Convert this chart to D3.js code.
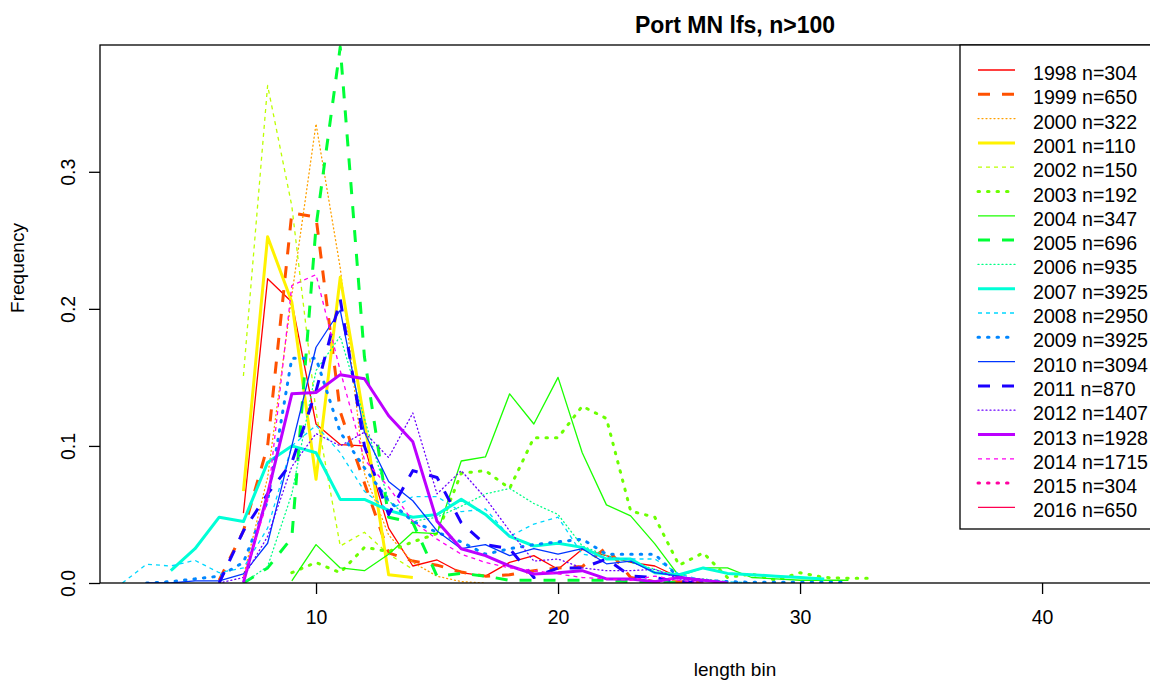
<!DOCTYPE html>
<html>
<head>
<meta charset="utf-8">
<script src="https://cdn.jsdelivr.net/npm/d3@7"></script>
<style>
  html, body { margin: 0; padding: 0; background: #fff; }
  svg { display: block; font-family: "Liberation Sans", Arial, Helvetica, sans-serif; }
</style>
</head>
<body>
<svg id="chart" width="1150" height="680"></svg>
<script>
// ---------------- data ----------------
const years  = [1998, 1999, 2000, 2001, 2002, 2003, 2004, 2005, 2006, 2007, 2008, 2009, 2010, 2011, 2012, 2013, 2014, 2015, 2016];
const counts = [304, 650, 322, 110, 150, 192, 347, 696, 935, 3925, 2950, 3925, 3094, 870, 1407, 1928, 1715, 304, 650];
// first length bin of each series
const startBin = [7, 6, 7, 7, 7, 9, 9, 7, 7, 4, 2, 3, 3, 6, 6, 7, 7, null, null];

const f1998 = [0.051, 0.222, 0.205, 0.116, 0.101, 0.100, 0.040, 0.0124, 0.0168, 0.0075, 0.005, 0.015, 0.020, 0.010, 0.0246, 0.020, 0.015, 0.0124, 0.004, 0.001];
const f1999 = [0.002, 0.038, 0.100, 0.270, 0.267, 0.125, 0.073, 0.022, 0.016, 0.013, 0.008, 0.005, 0.006, 0.009, 0.011, 0.012, 0.026, 0.004, 0.001, 0.001, 0];
const f2000 = [0.005, 0.077, 0.210, 0.335, 0.230, 0.080, 0.035, 0.015, 0.005, 0.001, 0];
const f2001 = [0.067, 0.2526, 0.205, 0.0757, 0.223, 0.118, 0.006, 0.004];
const f2002 = [0.151, 0.363, 0.275, 0.125, 0.027, 0.037, 0.021, 0.010];
const f2003 = [0.0075, 0.015, 0.0075, 0.026, 0.023, 0.030, 0.036, 0.080, 0.082, 0.069, 0.106, 0.106, 0.129, 0.120, 0.0525, 0.048, 0.013, 0.022, 0.004, 0.0066, 0.002, 0.0075, 0.004, 0.0035, 0.0035];
const f2004 = [0.0015, 0.028, 0.011, 0.009, 0.021, 0.037, 0.036, 0.089, 0.092, 0.138, 0.116, 0.150, 0.095, 0.057, 0.049, 0.0285, 0.005, 0.011, 0.011, 0.004, 0.003, 0.002, 0.002, 0.002];
const f2005 = [0, 0.011, 0.033, 0.260, 0.391, 0.165, 0.048, 0.044, 0.005, 0.007, 0.005, 0.002, 0.002, 0.002, 0.002, 0.002, 0.001, 0.001, 0];
const f2006 = [0, 0.012, 0.065, 0.155, 0.180, 0.120, 0.060, 0.045, 0.048, 0.056, 0.065, 0.069, 0.058, 0.050, 0.027, 0.020, 0.015, 0.010, 0.004, 0.003, 0.001];
const f2007 = [0.009, 0.025, 0.048, 0.0448, 0.088, 0.100, 0.095, 0.061, 0.061, 0.053, 0.048, 0.050, 0.061, 0.050, 0.034, 0.027, 0.029, 0.026, 0.0175, 0.0175, 0.0075, 0.006, 0.011, 0.007, 0.006, 0.005, 0.004, 0.003];
const f2008 = [0, 0.0137, 0.0124, 0.0165, 0.0075, 0.011, 0.040, 0.100, 0.115, 0.095, 0.067, 0.053, 0.063, 0.063, 0.052, 0.054, 0.034, 0.043, 0.048, 0.021, 0.0185, 0.0175, 0.0175, 0.0066, 0.002, 0.001, 0];
const f2009 = [0, 0.001, 0.003, 0.005, 0.015, 0.060, 0.164, 0.164, 0.110, 0.084, 0.060, 0.045, 0.037, 0.030, 0.021, 0.025, 0.028, 0.030, 0.032, 0.021, 0.021, 0.021, 0.004, 0.002, 0.001, 0.0005, 0.0005, 0.0005, 0.0005, 0.0005];
const f2010 = [0, 0, 0.0015, 0.0015, 0.0066, 0.029, 0.100, 0.172, 0.199, 0.110, 0.074, 0.060, 0.038, 0.025, 0.028, 0.020, 0.025, 0.021, 0.025, 0.014, 0.016, 0.0075, 0.005, 0.001];
const f2011 = [0, 0.038, 0.065, 0.088, 0.140, 0.207, 0.100, 0.050, 0.082, 0.077, 0.044, 0.028, 0.025, 0.004, 0.011, 0.011, 0.0175, 0.005, 0.004, 0.001, 0];
const f2012 = [0, 0.004, 0.034, 0.085, 0.109, 0.100, 0.110, 0.0915, 0.124, 0.065, 0.082, 0.062, 0.038, 0.016, 0.0175, 0.011, 0.009, 0.009, 0.010, 0.003, 0.001];
const f2013 = [0.0003, 0.065, 0.138, 0.139, 0.152, 0.149, 0.122, 0.103, 0.045, 0.025, 0.020, 0.0124, 0.0066, 0.0075, 0.009, 0.003, 0.003, 0.001, 0.004, 0.002, 0];
const f2014 = [0.003, 0.060, 0.217, 0.225, 0.155, 0.090, 0.070, 0.045, 0.032, 0.021, 0.015, 0.011, 0.009, 0.0066, 0.004, 0.003, 0.002, 0.005, 0.002, 0];
const f2015 = [];
const f2016 = [];

const seriesValues = [f1998, f1999, f2000, f2001, f2002, f2003, f2004, f2005, f2006, f2007, f2008, f2009, f2010, f2011, f2012, f2013, f2014, f2015, f2016];

const xTicks = [10, 20, 30, 40];
const yTicks = [0.0, 0.1, 0.2, 0.3];
const titleText = "Port MN lfs, n>100";
const xLabel = "length bin";
const yLabel = "Frequency";

// ---------------- layout ----------------
const svg = d3.select("#chart");
const plot = { left: 100, right: 1370, top: 45, bottom: 583 };

const x = d3.scaleLinear().domain([1.074, 53.55]).range([plot.left, plot.right]);
const y = d3.scaleLinear().domain([0, 0.3925]).range([plot.bottom, plot.top]);

const n = years.length;
const colors = years.map((_, i) => d3.hsl(360 * i / n, 1, 0.5).formatHex());
const thick = i => i % 2 === 1;
const lineType = i => i % 3; // 0 solid, 1 dashed, 2 dotted
function dashFor(i) {
  const w = thick(i) ? 3 : 1;
  const t = lineType(i);
  if (t === 1) return `${4 * w},${4 * w}`;
  if (t === 2) return thick(i) ? `1.5,8` : `1,3`;
  return null;
}
const widthFor = i => thick(i) ? 3 : 1.3;

// clip for plot region
svg.append("defs").append("clipPath").attr("id", "clip")
  .append("rect").attr("x", plot.left).attr("y", plot.top - 2)
  .attr("width", plot.right - plot.left).attr("height", plot.bottom - plot.top + 2);

// ---------------- lines ----------------
const line = d3.line().x(d => x(d[0])).y(d => y(d[1]));
const gLines = svg.append("g").attr("clip-path", "url(#clip)");
seriesValues.forEach((vals, i) => {
  if (!vals.length) return;
  const pts = vals.map((v, k) => [startBin[i] + k, v]);
  gLines.append("path")
    .attr("d", line(pts))
    .attr("fill", "none")
    .attr("stroke", colors[i])
    .attr("stroke-width", widthFor(i))
    .attr("stroke-dasharray", dashFor(i))
    .attr("stroke-linecap", lineType(i) === 2 ? "round" : "butt")
    .attr("stroke-linejoin", "round");
});

// ---------------- box & axes ----------------
svg.append("rect")
  .attr("x", plot.left).attr("y", plot.top)
  .attr("width", plot.right - plot.left).attr("height", plot.bottom - plot.top)
  .attr("fill", "none").attr("stroke", "#000").attr("stroke-width", 1.3);

const xAxis = d3.axisBottom(x).tickValues(xTicks).tickFormat(d3.format("d"))
  .tickSize(11).tickPadding(16).tickSizeOuter(0);
const gx = svg.append("g").attr("transform", `translate(0,${plot.bottom})`).call(xAxis);
gx.select(".domain").remove();
gx.selectAll("line").attr("stroke", "#000").attr("stroke-width", 1.3);
gx.selectAll("text").attr("font-size", 19.5).attr("fill", "#000")
  .attr("font-family", "Liberation Sans, Arial, sans-serif");

const yAxis = d3.axisLeft(y).tickValues(yTicks).tickFormat(d3.format(".1f"))
  .tickSize(11).tickSizeOuter(0);
const gy = svg.append("g").attr("transform", `translate(${plot.left},0)`).call(yAxis);
gy.select(".domain").remove();
gy.selectAll("line").attr("stroke", "#000").attr("stroke-width", 1.3);
gy.selectAll("text")
  .attr("font-size", 19.5).attr("fill", "#000")
  .attr("font-family", "Liberation Sans, Arial, sans-serif")
  .attr("text-anchor", "middle")
  .attr("dy", null)
  .attr("x", null)
  .attr("transform", "translate(-32,0) rotate(-90)")
  .attr("dominant-baseline", "central");

// titles
svg.append("text").attr("x", 735).attr("y", 33).attr("text-anchor", "middle")
  .attr("font-size", 23).attr("font-weight", "bold").text(titleText);
svg.append("text").attr("x", 735).attr("y", 676).attr("text-anchor", "middle")
  .attr("font-size", 19).text(xLabel);
svg.append("text").attr("transform", "translate(24,268) rotate(-90)").attr("text-anchor", "middle")
  .attr("font-size", 19).text(yLabel);

// ---------------- legend ----------------
const leg = { left: 960, top: 45, right: 1200, bottom: 529, x1: 978, x2: 1015, tx: 1033, row0: 70, step: 24.3 };
svg.append("rect").attr("x", leg.left).attr("y", leg.top)
  .attr("width", leg.right - leg.left).attr("height", leg.bottom - leg.top)
  .attr("fill", "#fff").attr("stroke", "#000").attr("stroke-width", 1.3);
const gLeg = svg.append("g");
years.forEach((yr, i) => {
  const yy = leg.row0 + i * leg.step;
  gLeg.append("line").attr("x1", leg.x1).attr("x2", leg.x2).attr("y1", yy).attr("y2", yy)
    .attr("stroke", colors[i]).attr("stroke-width", widthFor(i))
    .attr("stroke-dasharray", dashFor(i))
    .attr("stroke-linecap", lineType(i) === 2 ? "round" : "butt");
  gLeg.append("text").attr("x", leg.tx).attr("y", yy + 3).attr("dominant-baseline", "central")
    .attr("font-size", 19.6).text(`${yr} n=${counts[i]}`);
});
</script>
</body>
</html>
